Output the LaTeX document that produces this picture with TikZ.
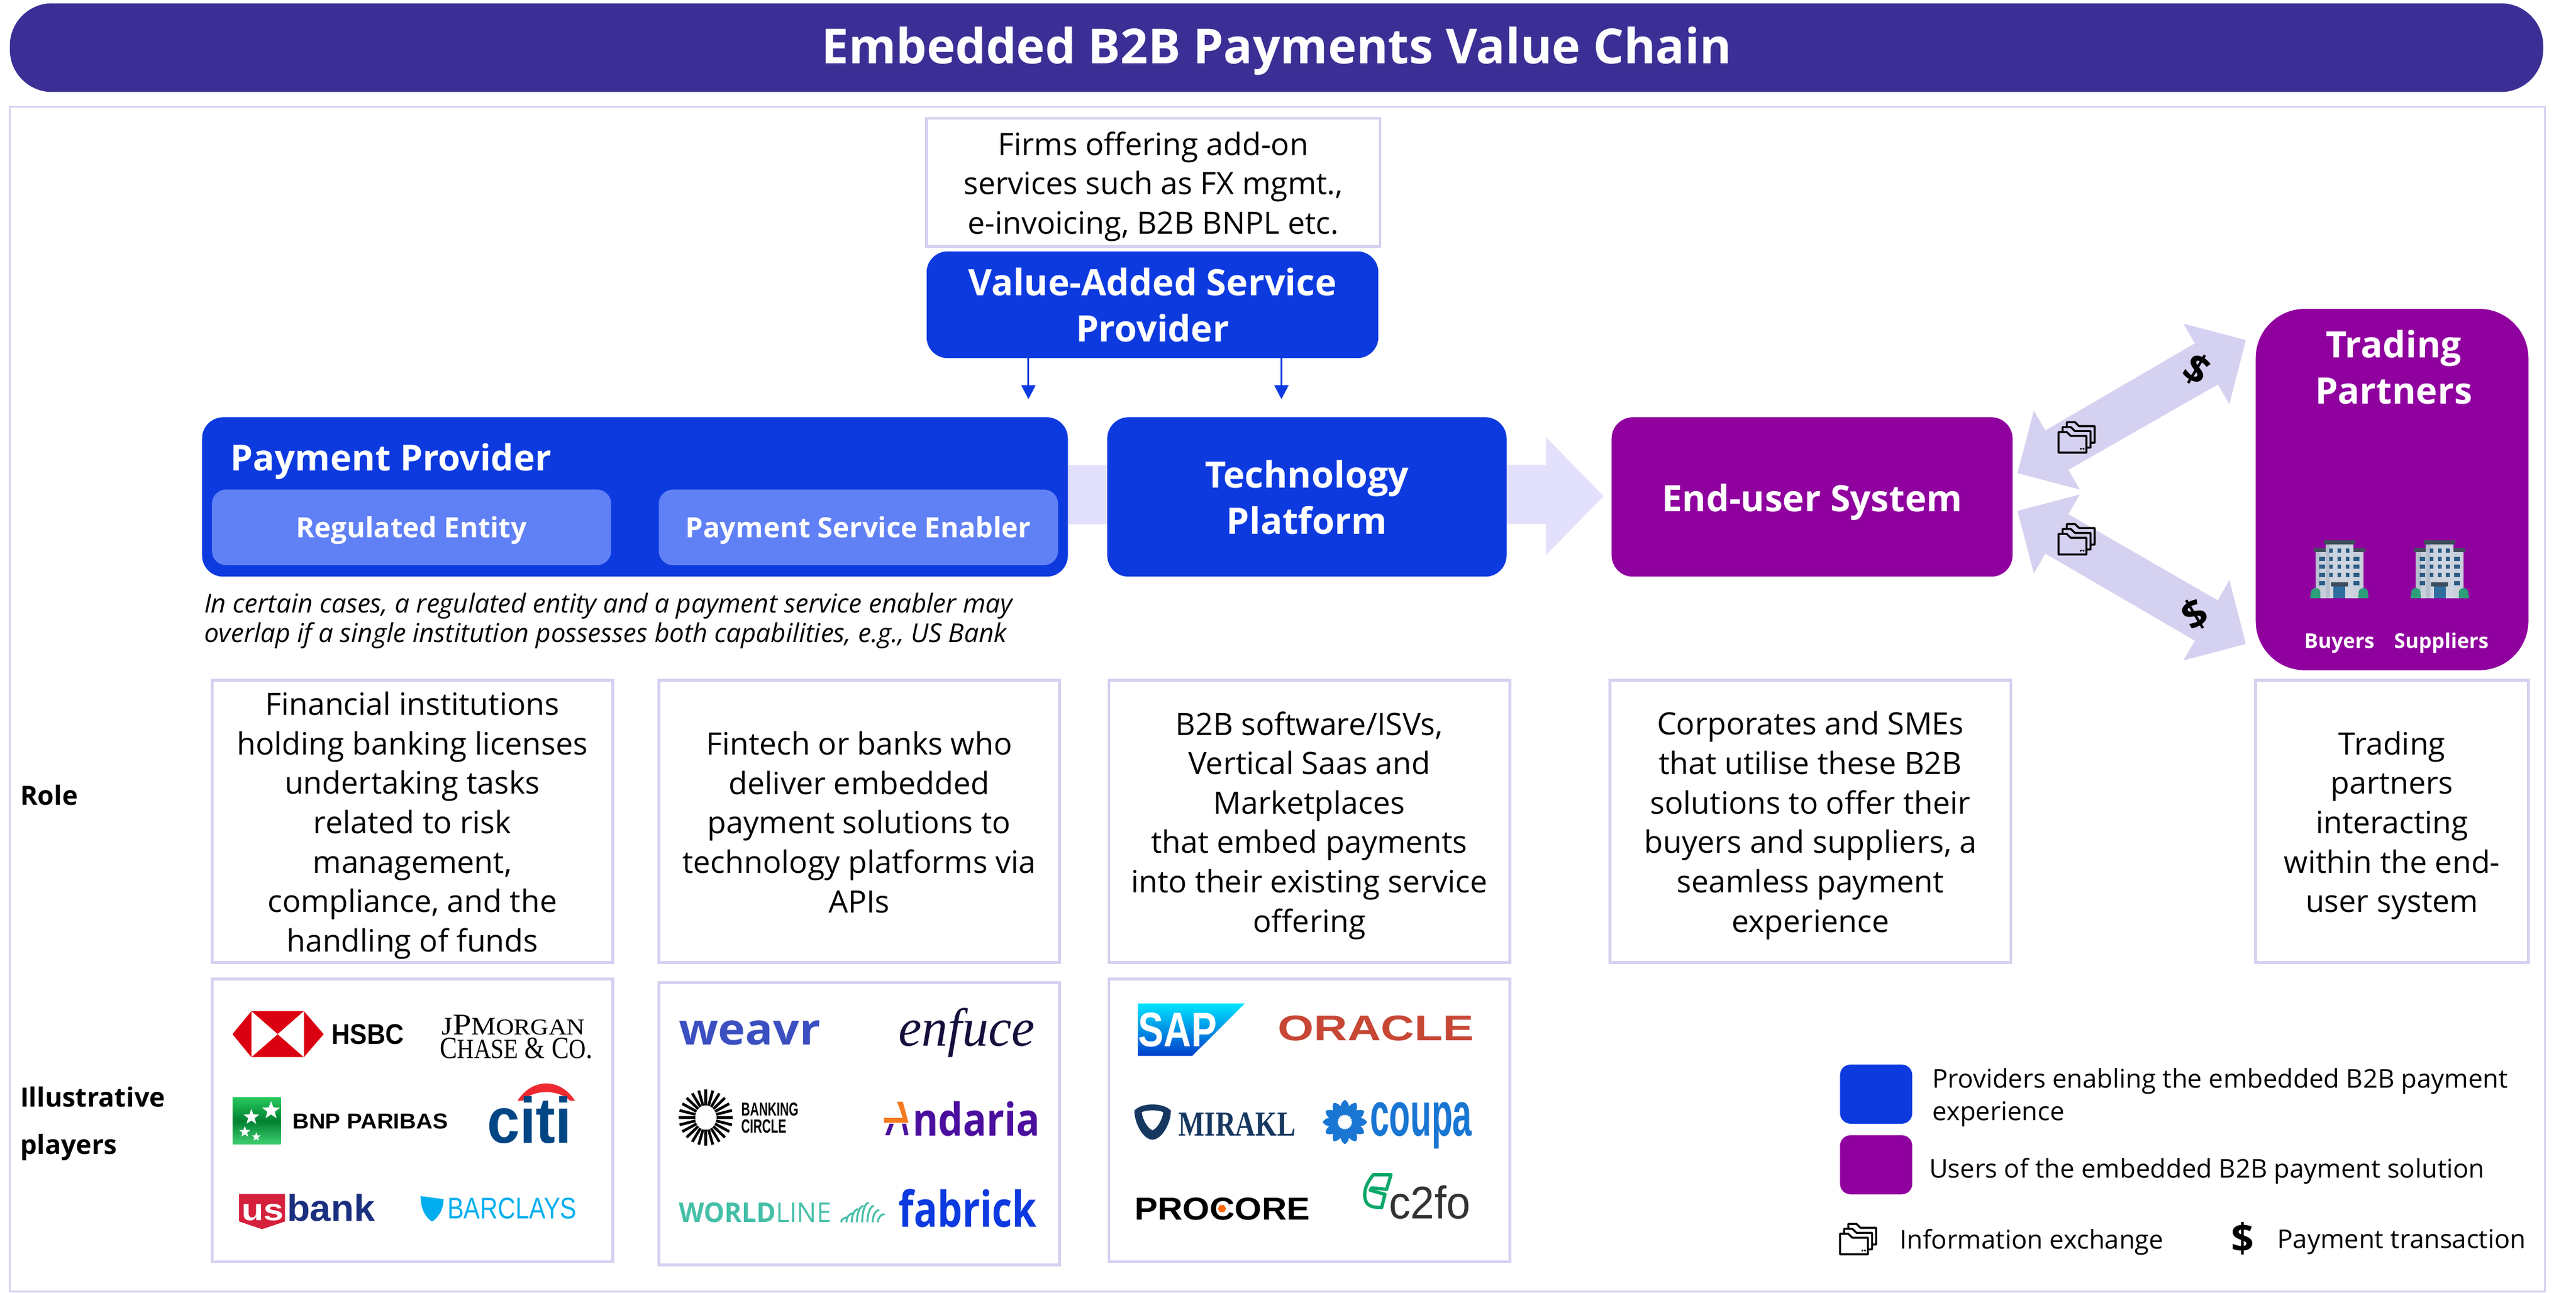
\documentclass[tikz,border=0pt]{standalone}
\usepackage{fontspec}
\usepackage{graphicx}
\setmainfont{Open Sans}
\newfontfamily\serifF{Liberation Serif}
\newfontfamily\arialF{Liberation Sans}
\usetikzlibrary{arrows.meta,shapes.geometric}
\definecolor{pblue}{HTML}{0D3ADF}
\definecolor{ppurple}{HTML}{90009F}
\definecolor{lblue}{HTML}{6080F5}
\definecolor{bord}{HTML}{D5D1F0}
\definecolor{band}{HTML}{E3E0FC}
\definecolor{ttl}{HTML}{3B2F96}
\definecolor{wgreen}{HTML}{46BFA8}
\definecolor{bbody}{HTML}{C9D0DC}
\definecolor{bshade}{HTML}{B7BFCE}
\definecolor{bcap}{HTML}{3E4E5C}
\definecolor{bwin}{HTML}{2B5C85}
\definecolor{bdoor}{HTML}{2F6E9E}
\definecolor{bbush}{HTML}{2E9E78}
\definecolor{hsbcred}{HTML}{DB0011}
\definecolor{citiblue}{HTML}{004685}
\definecolor{citired}{HTML}{EE2A30}
\definecolor{usred}{HTML}{D5203C}
\definecolor{usnavy}{HTML}{1A2F7E}
\definecolor{barcl}{HTML}{00AEEF}
\definecolor{weav}{HTML}{3B4FC0}
\definecolor{enfu}{HTML}{14103C}
\definecolor{andp}{HTML}{4B0F9E}
\definecolor{ando}{HTML}{F47A20}
\definecolor{oracl}{HTML}{C74634}
\definecolor{mirak}{HTML}{163860}
\definecolor{coup}{HTML}{1976D2}
\definecolor{twofo}{HTML}{0AA86A}
\newif\ifbxtext
\tikzset{
 tsh/.code={\ifbxtext\tikzset{yshift=#1}\fi},
 frameb/.style={draw=bord,line width=1.2pt,fill=white,align=center,font=\fontsize{13.1}{16.8}\selectfont,tsh=-1.75pt},
 blueb/.style={fill=pblue,rounded corners=9pt,text=white,align=center,font=\fontsize{15.5}{19.6}\selectfont\bfseries,tsh=-0.2pt},
 purpleb/.style={fill=ppurple,rounded corners=9pt,text=white,align=center,font=\fontsize{15.5}{19.6}\selectfont\bfseries,tsh=-2.1pt},
 subb/.style={fill=lblue,rounded corners=6pt,text=white,align=center,font=\fontsize{11.9}{15}\selectfont\bfseries,tsh=-1.4pt},
 sidelab/.style={anchor=west,align=left,font=\fontsize{11.3}{20.3}\selectfont\bfseries},
 legtext/.style={anchor=west,align=left,font=\fontsize{11}{14}\selectfont},
 wlab/.style={text=white,font=\fontsize{8.7}{10}\selectfont\bfseries,inner sep=0pt},
 dollar/.style={font=\fontsize{17}{19}\selectfont\bfseries,inner sep=0pt},
 flowarrow/.style={draw=pblue,line width=0.8pt,-{Triangle[length=6pt,width=6pt]}},
 note/.style={anchor=west,align=left,font=\fontsize{11.1}{12.6}\selectfont\itshape,inner sep=0pt},
 dbl/.style={fill=bord},
}
\newcommand{\bx}[7]{%
 \pgfmathsetmacro\bxcx{(#3+#5)/2}\pgfmathsetmacro\bxcy{(#4+#6)/2}%
 \pgfmathsetmacro\bxw{(#5-#3)*0.7}\pgfmathsetmacro\bxh{(#6-#4)*0.7}%
 \bxtextfalse
 \node[#2,minimum width=\bxw pt,minimum height=\bxh pt,inner sep=0pt,outer sep=0pt] (#1) at (\bxcx,\bxcy) {};
 \bxtexttrue
 \node[#2,draw=none,fill=none,inner sep=0pt,outer sep=0pt] (#1t) at (\bxcx,\bxcy) {#7};
 \bxtextfalse}
\newcommand{\logotext}[7]{%
 \pgfmathsetmacro\lgcx{(#2+#4)/2}\pgfmathsetmacro\lgcy{(#3+#5)/2}%
 \pgfmathsetmacro\lgw{(#4-#2)*0.7}\pgfmathsetmacro\lgh{(#5-#3)*0.7}%
 \node[inner sep=0pt,outer sep=0pt] (#1) at (\lgcx,\lgcy) {\resizebox{\lgw pt}{\lgh pt}{#6\relax #7}};}
\newcommand{\folderone}[3]{% dx dy fill
 \draw[line width=0.85pt,line join=round,fill=#3] ({-11+#1},{-3+#2}) -- ({-6+#1},{-3+#2}) -- ({-3.5+#1},{-0.6+#2}) -- ({6+#1},{-0.6+#2}) -- ({6+#1},{9.5+#2}) -- ({-11+#1},{9.5+#2}) -- cycle;}
\newcommand{\folders}[3]{%
 \begin{scope}[shift={(#1,#2)}]
 \folderone{5}{-6}{#3}\folderone{2.5}{-3}{#3}\folderone{0}{0}{#3}
 \fill (2.6,7.2) circle (0.65);\fill (4.2,7.2) circle (0.65);
 \end{scope}}
\newcommand{\building}[2]{%
 \begin{scope}[shift={(#1,#2)}]
 \fill[bbody] (-14.5,5) rectangle (14.5,35);
 \fill[bshade] (-14.5,6) rectangle (-11.5,35);
 \fill[bbody!92!white] (-8.4,1) rectangle (8.4,35);
 \fill[bshade] (-8.4,2) rectangle (-5.8,35);
 \fill[bcap] (-9.6,0) rectangle (9.6,2.4);
 \fill[bcap] (-15.7,4.7) rectangle (-8.4,7);
 \fill[bcap] (8.4,4.7) rectangle (15.7,7);
 \foreach \wy in {6.2,11.2,16,21}{\foreach \wx in {-5,0,5}{\fill[bwin] (\wx-1.1,\wy-1.2) rectangle (\wx+1.1,\wy+1.2);}}
 \foreach \wy in {11.2,16,21,26}{\foreach \wx in {-10.5,10.5}{\fill[bwin] (\wx-1.8,\wy-1.2) rectangle (\wx+1.8,\wy+1.2);}}
 \fill[bcap] (-5.2,25.6) rectangle (5.2,27.8);
 \fill[bdoor] (-3.6,27.8) rectangle (3.6,35);
 \fill[bbush] (-14.5,31.8) circle (2.9);\fill[bbush] (14.5,31.8) circle (2.9);
 \fill[bbush] (-17.6,33) rectangle (-11.5,35);\fill[bbush] (17.6,33) rectangle (11.5,35);
 \end{scope}}
\begin{document}
\begin{tikzpicture}[x=0.7pt,y=-0.7pt]
\useasboundingbox (0,0) rectangle (1568,786.7);
\bx{frame}{draw=bord,line width=0.8pt}{6}{65}{1549}{786}{}
\bx{title}{fill=ttl,rounded corners=18pt,text=white,font=\fontsize{20.6}{24}\selectfont\bfseries,tsh=-1.4pt}{6}{2}{1548}{56}{Embedded B2B Payments Value Chain}

% top
\bx{vastext}{frameb}{564}{72}{840}{150}{Firms offering add-on\\services such as FX mgmt.,\\e-invoicing, B2B BNPL etc.}
\bx{vas}{blueb}{564}{153}{839}{218}{Value-Added Service\\Provider}
\coordinate (a1) at (626,243);
\coordinate (a2) at (780,243);
\draw[flowarrow] (vas.south -| a1) -- (a1);
\draw[flowarrow] (vas.south -| a2) -- (a2);

% bands and big arrow
\fill[band] (650,283) rectangle (674,319);
\fill[band] (917,283) -- (941,283) -- (941,266) -- (976,302) -- (941,338) -- (941,319) -- (917,319) -- cycle;

% main boxes
\bx{pp}{blueb}{123}{254}{650}{351}{}
\node[anchor=west,text=white,font=\fontsize{15.3}{19.6}\selectfont\bfseries,inner sep=0pt] (pplab) at (140,281) {Payment Provider};
\bx{re}{subb}{129}{298}{372}{344}{Regulated Entity}
\bx{pse}{subb}{401}{298}{644}{344}{Payment Service Enabler}
\bx{tp}{blueb}{674}{254}{917}{351}{Technology\\Platform}
\bx{eu}{purpleb}{981}{254}{1225}{351}{End-user System}
\bx{tr}{purpleb,rounded corners=21pt}{1373}{188}{1539}{408}{}
\node[text=white,align=center,font=\fontsize{15.5}{19.6}\selectfont\bfseries,inner sep=0pt] (trlab) at (1457,223.5) {Trading\\Partners};
\building{1424}{329}
\building{1485}{329}
\node[wlab] (buy) at (1424,391.5) {Buyers};
\node[wlab] (sup) at (1486,391.5) {Suppliers};

% double arrows
\fill[dbl] (1228,288) -- (1238,250) -- (1245,262) -- (1336,209) -- (1329,197) -- (1367,207) -- (1357,246) -- (1350,234) -- (1259,286) -- (1266,298) -- cycle;
\fill[dbl] (1228,311) -- (1266,301) -- (1259,313) -- (1350,365.5) -- (1357,353) -- (1367,392) -- (1329,402) -- (1336,390) -- (1245,337) -- (1238,349) -- cycle;
\node[dollar,rotate=-31] (d1) at (1337,225) {\$};
\node[dollar,rotate=31] (d2) at (1336,374) {\$};
\folders{1264}{266}{bord}
\folders{1264}{328}{bord}

% note
\node[note] (nt) at (124,378) {In certain cases, a regulated entity and a payment service enabler may\\overlap if a single institution possesses both capabilities, e.g., US Bank};

% roles
\bx{r1}{frameb}{129}{414}{373}{586}{Financial institutions\\holding banking licenses\\undertaking tasks\\related to risk\\management,\\compliance, and the\\handling of funds}
\bx{r2}{frameb,tsh=1.4pt}{401}{414}{645}{586}{Fintech or banks who\\deliver embedded\\payment solutions to\\technology platforms via\\APIs}
\bx{r3}{frameb}{675}{414}{919}{586}{B2B software/ISVs,\\Vertical Saas and\\Marketplaces\\that embed payments\\into their existing service\\offering}
\bx{r4}{frameb}{980}{414}{1224}{586}{Corporates and SMEs\\that utilise these B2B\\solutions to offer their\\buyers and suppliers, a\\seamless payment\\experience}
\bx{r5}{frameb}{1373}{414}{1539}{586}{Trading\\partners\\interacting\\within the end-\\user system}

\node[sidelab,inner sep=0pt] (lrole) at (12,484) {Role};
\node[sidelab,inner sep=0pt] (lplay) at (12,684) {Illustrative\\players};

% logo boxes
\bx{l1}{frameb}{129}{596}{373}{768}{}
\bx{l2}{frameb}{401}{598}{645}{770}{}
\bx{l3}{frameb}{675}{596}{919}{768}{}

% HSBC
\fill[hsbcred] (141.5,629.5) -- (153,615.5) -- (185,615.5) -- (197,629.5) -- (185,643.5) -- (153,643.5) -- cycle;
\fill[white] (153,615.5) -- (169,629.5) -- (153,643.5) -- cycle;
\fill[white] (185,615.5) -- (169,629.5) -- (185,643.5) -- cycle;
\logotext{hsbc}{202}{623.4}{246}{635.5}{\arialF\bfseries}{HSBC}
\logotext{jp}{269}{618}{356}{630}{\serifF}{J{\large P}M{\small ORGAN}}
\logotext{chase}{267.7}{632}{360.6}{644.5}{\serifF}{C{\small HASE} \& C{\small O}.}
% BNP
\shade[top color=green!50!teal!85,bottom color=green!50!teal!75,middle color=green!45!teal!70!black] (141.8,668) rectangle (170.9,696.5);
\foreach \sx/\sy/\sr in {165/676/8,153/680/7,149/689/5,156/692/4}{\node[star,star points=5,star point ratio=2.4,fill=white,inner sep=0pt,minimum size=\sr pt] (s\sx) at (\sx,\sy) {};}
\logotext{bnp}{178}{678}{272.7}{687.2}{\arialF\bfseries}{BNP PARIBAS}
% citi
\fill[citired] (315,670) .. controls (324,656) and (341,656) .. (350,670) -- (347,670) .. controls (340,663) and (325,663) .. (318,670) -- cycle;
\logotext{citi}{296.5}{667.4}{348}{695.8}{\arialF\bfseries\color{citiblue}}{citi}
% usbank
\fill[usred] (145.6,726.8) -- (173.5,726.8) -- (173.5,743.5) -- (159.5,748.2) -- (145.6,743.5) -- cycle;
\logotext{us}{147}{733}{172.7}{743}{\arialF\bfseries\color{white}}{us}
\logotext{bank}{174.7}{727}{228.2}{743.4}{\arialF\bfseries\color{usnavy}}{bank}
% barclays
\fill[barcl] (256,728) .. controls (262,729) and (264,729) .. (270,730) .. controls (270,736) and (267,741) .. (263,743.6) .. controls (259,741) and (256,736) .. (256,728) -- cycle;
\logotext{barc}{272.4}{729.3}{351}{742}{\arialF\color{barcl}}{BARCLAYS}

% weavr etc
\logotext{weavr}{413.2}{621.5}{499.4}{636.2}{\bfseries\color{weav}}{weavr}
\logotext{enf}{547}{617}{630}{640}{\serifF\itshape\color{enfu}}{enfuce}
\begin{scope}[shift={(429.6,680.3)}]
\foreach \a in {0,15,...,345}{\draw[line width=1.15pt] ({6.5*cos(\a)},{7.5*sin(\a)}) -- ({16.5*cos(\a)},{17*sin(\a)});}
\end{scope}
\logotext{bk}{451.2}{671.3}{486}{679.2}{\arialF\bfseries}{BANKING}
\logotext{cc}{451.2}{681.7}{478.6}{689.8}{\arialF\bfseries}{CIRCLE}
\fill[andp] (538.8,691) -- (541.5,684) -- (544,684) -- (541.5,691) -- cycle;
\fill[andp] (549,684) -- (551.5,684) -- (553,691) -- (550.5,691) -- cycle;
\fill[ando] (546,670.6) -- (549.5,670.6) -- (553,683.4) -- (538,683.4) -- (538,680.5) -- (549.5,680.5) -- (547.5,674.5) -- cycle;
\logotext{anda}{555.5}{670.6}{633}{691.5}{\bfseries\color{andp}}{ndaria}
\logotext{wl}{413.2}{732}{506}{744}{\color{wgreen}}{{\bfseries WORLD}LINE}
\foreach \i/\h in {0/3,1/5.5,2/8,3/10,4/12,5/10,6/7.5,7/5}{\draw[wgreen,line width=0.8pt] (512+\i*3.2,744) .. controls (512+\i*3.2,744-\h*0.6) and (514+\i*3.2,744-\h) .. (516+\i*3.2,744-\h);}
\logotext{fab}{547}{724}{631}{747}{\bfseries\color{pblue}}{fabrick}

% SAP
\shade[top color=cyan!90!blue,bottom color=blue!70!cyan!80!black] (692.6,610.8) -- (757.7,610.8) -- (725.7,642.7) -- (692.6,642.7) -- cycle;
\logotext{sap}{693}{616.4}{740.7}{637}{\arialF\bfseries\color{white}}{SAP}
\logotext{ora}{778}{618.5}{897}{633.7}{\arialF\bfseries\color{oracl}}{ORACLE}
\path[fill=mirak] (690.5,676) .. controls (695,671) and (708,671) .. (712.7,676) .. controls (712.7,684) and (707,693.7) .. (701.5,693.7) .. controls (696,693.7) and (690.5,684) .. (690.5,676) -- cycle;
\path[fill=white] (695,677) .. controls (698,675.5) and (705,675.5) .. (708,677) .. controls (707.5,682) and (704,687) .. (701.5,688) .. controls (699,687) and (695.5,682) .. (695,677) -- cycle;
\logotext{mir}{717.4}{677.3}{788.6}{691.4}{\serifF\bfseries\color{mirak}}{MIRAKL}
\begin{scope}[shift={(818.6,683)}]
\foreach \a in {0,30,...,330}{\fill[coup,rotate=\a] (4,0) .. controls (8,-4.2) and (12,-2.5) .. (13.5,0) .. controls (12,2.5) and (8,4.2) .. (4,0) -- cycle;}
\foreach \a in {15,45,...,345}{\fill[coup,rotate=\a] (4,0) .. controls (7,-3) and (9,-2) .. (10,0) .. controls (9,2) and (7,3) .. (4,0) -- cycle;}
\fill[white] (0,0) circle (3.2);
\end{scope}
\logotext{cou}{834}{675}{896}{695.5}{\arialF\bfseries\color{coup}}{coupa}
\logotext{pro}{690.7}{729}{797.5}{742.5}{\arialF\bfseries}{PROCORE}
\node[regular polygon,regular polygon sides=6,fill=orange!80!red,inner sep=0pt,minimum size=3.5pt] (prodot) at (743.8,735.7) {};
\draw[twofo,line width=1.4pt,line join=round] (846.7,715) -- (836,715) .. controls (831,721) and (830,726) .. (831,730) .. controls (832,734) and (835,735) .. (841,735) -- (843,727) -- (834,724.5) -- (835,723) -- (844,724) -- cycle;
\logotext{c2}{845.5}{721.8}{895}{742}{\arialF\color{black!80}}{c2fo}

% legend
\bx{lg1}{fill=pblue,rounded corners=4.5pt}{1120}{648}{1164}{684}{}
\bx{lg2}{fill=ppurple,rounded corners=4.5pt}{1120}{691}{1164}{727}{}
\node[legtext,inner sep=0pt] (lgt1) at (1176,668) {Providers enabling the embedded B2B payment\\experience};
\node[legtext,inner sep=0pt] (lgt2) at (1174,713) {Users of the embedded B2B payment solution};
\folders{1131}{754}{white}
\node[legtext,inner sep=0pt] (lgt3) at (1156,756) {Information exchange};
\node[dollar] (lgd) at (1365,754) {\$};
\node[legtext,inner sep=0pt] (lgt4) at (1386,756) {Payment transaction};
\end{tikzpicture}
\end{document}
